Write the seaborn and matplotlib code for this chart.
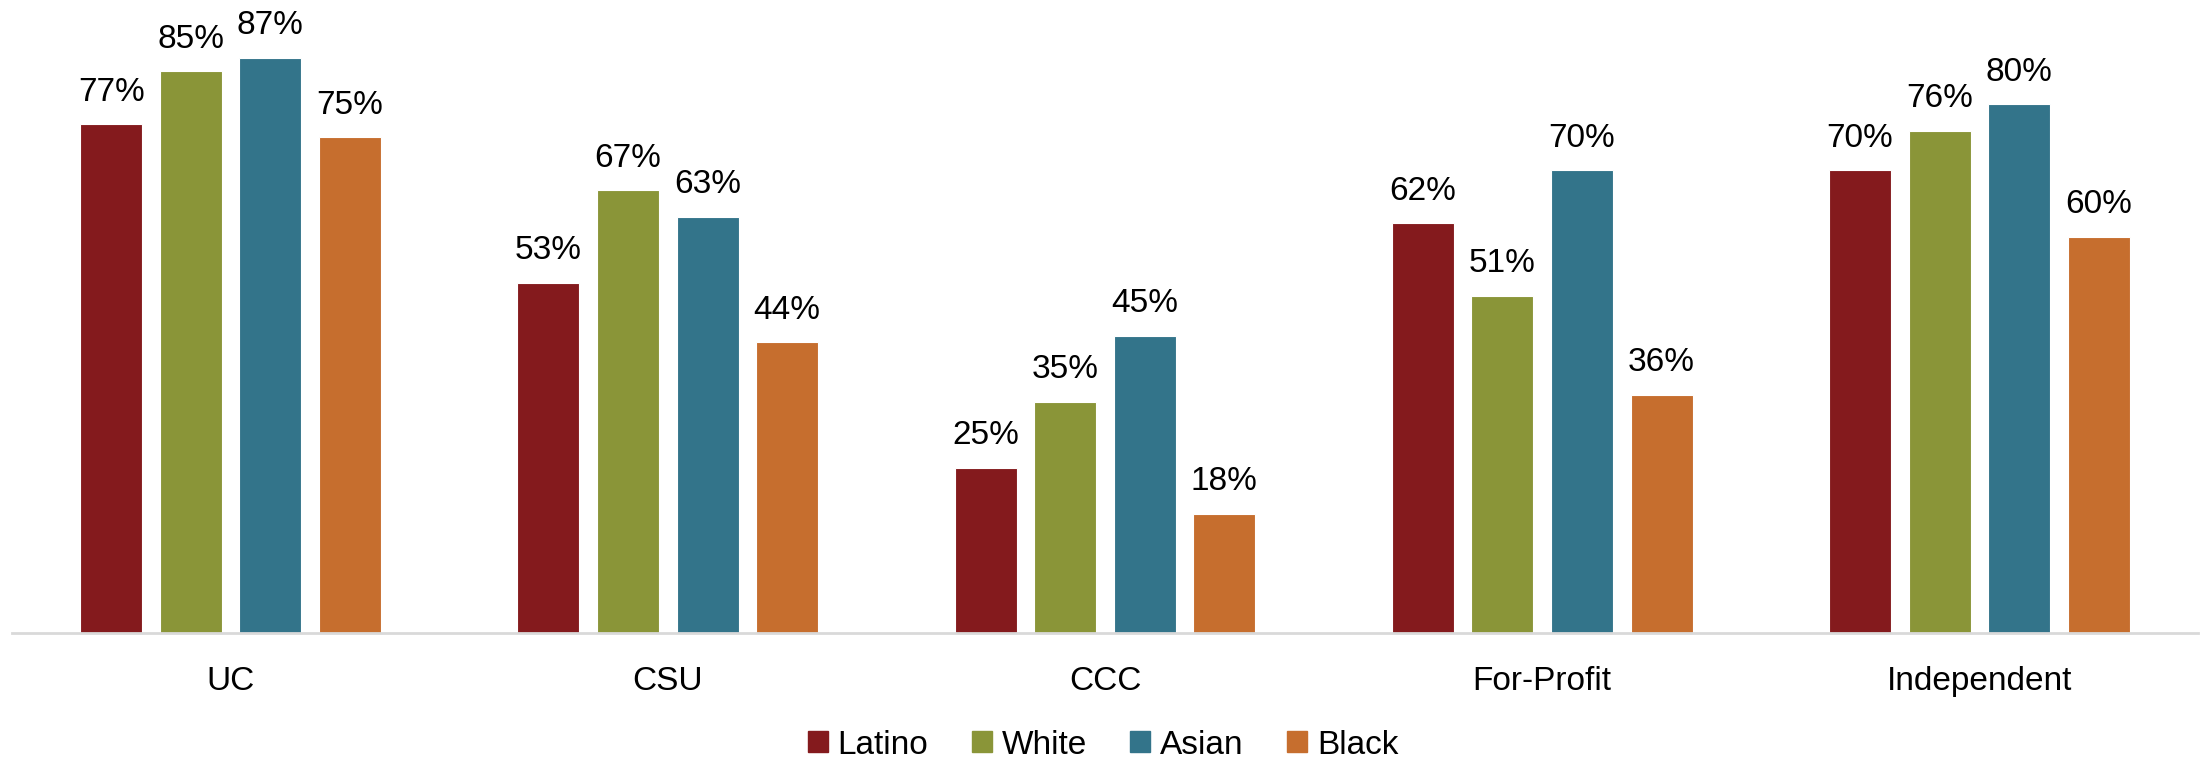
import pandas as pd
import numpy as np
import matplotlib.pyplot as plt
import seaborn as sns

sectors = ["UC", "CSU", "CCC", "For-Profit", "Independent"]
groups = ["Latino", "White", "Asian", "Black"]
latino = [77, 53, 25, 62, 70]
white = [85, 67, 35, 51, 76]
asian = [87, 63, 45, 70, 80]
black = [75, 44, 18, 36, 60]
colors = ["#841A1D", "#8A9538", "#33748A", "#C66E2E"]

rows = []
for g, vals in zip(groups, [latino, white, asian, black]):
    for s, v in zip(sectors, vals):
        rows.append({"Sector": s, "Group": g, "Value": v})
df = pd.DataFrame(rows)

sns.set_style("white")
plt.rcParams['font.family'] = ['Liberation Sans', 'DejaVu Sans']
plt.rcParams['text.color'] = 'black'
plt.rcParams['xtick.color'] = 'black'

fig = plt.figure(figsize=(22.06, 7.63), dpi=100)
ax = fig.add_axes([0.0054, 0.1704, 0.991, 0.8296])

sns.barplot(data=df, x="Sector", y="Value", hue="Group", order=sectors,
            hue_order=groups, palette=colors, saturation=1, width=0.728, gap=0.22,
            edgecolor="white", linewidth=0.8, legend=False, ax=ax)

for cont in ax.containers:
    ax.bar_label(cont, labels=[f"{int(v)}%" for v in cont.datavalues],
                 padding=12, fontsize=24, color="black")

ax.set_ylim(0, 95.8)
ax.set_xlim(-0.5, 4.5)
ax.set_xlabel("")
ax.set_ylabel("")
ax.set_yticks([])
ax.tick_params(axis="x", length=0, pad=24, labelsize=24, labelcolor="black")
for side in ["top", "right", "left"]:
    ax.spines[side].set_visible(False)
ax.spines["bottom"].set_color("#d9d9d9")
ax.spines["bottom"].set_linewidth(2)

handles = [plt.Rectangle((0, 0), 1, 1, color=c) for c in colors]
fig.legend(handles, groups, loc="center", ncol=4, frameon=False,
           fontsize=24, handlelength=0.6, handleheight=0.6,
           handletextpad=0.3, columnspacing=1.3, bbox_to_anchor=(0.5, 18 / 763))

fig.savefig("out.png", dpi=100)
